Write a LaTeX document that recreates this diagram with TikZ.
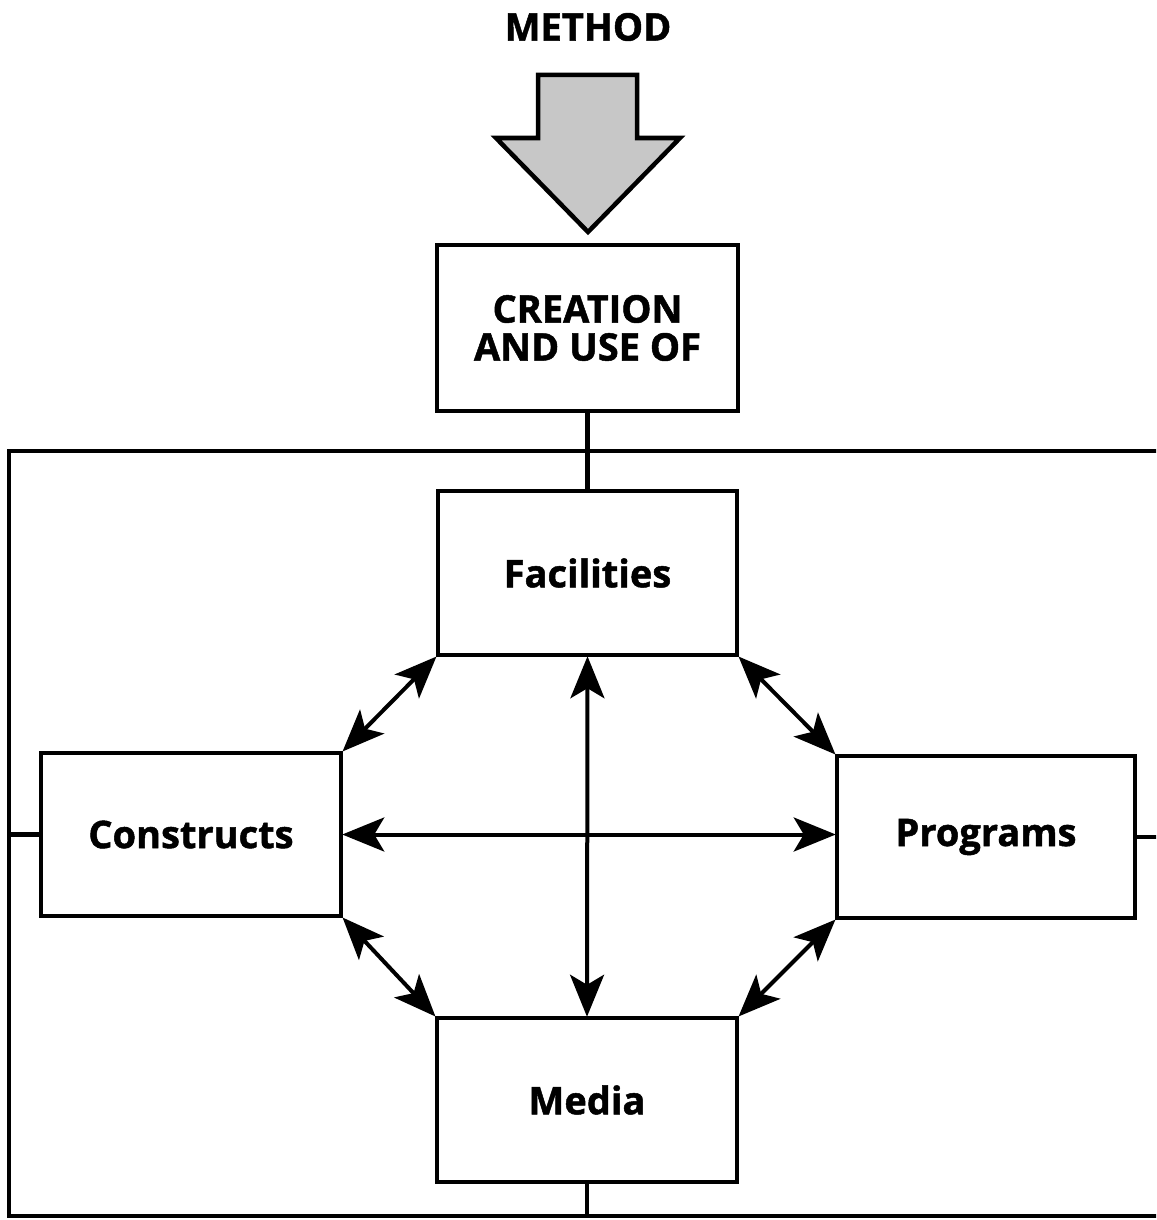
\documentclass[tikz,border=0pt]{standalone}
\usepackage{fontspec}
\setmainfont{Open Sans}[BoldFeatures={FakeBold=1.3}]
\usetikzlibrary{arrows.meta}
\begin{document}
\begin{tikzpicture}[x=1pt,y=-1pt,
  box/.style={draw=black,line width=4.5pt,inner sep=0pt,font=\fontsize{38}{38}\selectfont\bfseries,align=center},
  link/.style={line width=4.5pt},
  dbl/.style={line width=4pt,{Stealth[length=42pt,width=34pt,inset=10pt]}-{Stealth[length=42pt,width=34pt,inset=10pt]},shorten <=-1pt,shorten >=-1pt}]
\useasboundingbox (0,0) rectangle (1156,1220);
\clip (0,0) rectangle (1156,1220);
\fill[white] (0,0) rectangle (1156,1220);
% title
\node[font=\fontsize{38}{38}\selectfont\bfseries] (title) at (588,27) {METHOD};
% big arrow
\draw[line width=4.5pt,fill=black!22,line join=miter] (538,75) -- (637,75) -- (637,138) -- (680,138) -- (588,232) -- (496,138) -- (538,138) -- cycle;
% boxes
\node[box,minimum width=301pt,minimum height=166pt] (creation) at (587.5,328) {CREATION\\AND USE OF};
\node[box,minimum width=299pt,minimum height=164pt] (facilities) at (587.5,573) {Facilities};
\node[box,minimum width=300pt,minimum height=163pt] (constructs) at (191,834.5) {Constructs};
\node[box,minimum width=298pt,minimum height=162pt] (programs) at (986,837) {Programs};
\node[box,minimum width=300pt,minimum height=164pt] (media) at (587,1100) {Media};
% frame
\coordinate (fTL) at (9,451);
\coordinate (fBR) at (1160,1216);
\draw[line width=4.5pt] (1160,451) -- (fTL) -- (9,1216) -- (fBR);
% connectors
\draw[link] (creation.south) -- (facilities.north);
\draw[link] (media.south) -- (media.south |- fBR);
\draw[link] (constructs.west) -- (constructs.west -| fTL);
\draw[link] (programs.east) -- (programs.east -| fBR);
% arrows
\draw[dbl] (facilities.south west) -- (constructs.north east);
\draw[dbl] (facilities.south east) -- (programs.north west);
\draw[dbl] (constructs.south east) -- (media.north west);
\draw[dbl] (programs.south west) -- (media.north east);
\draw[dbl] (facilities.south) -- (media.north);
\draw[dbl] (constructs.east) -- (constructs.east -| programs.west);
\end{tikzpicture}
\end{document}
